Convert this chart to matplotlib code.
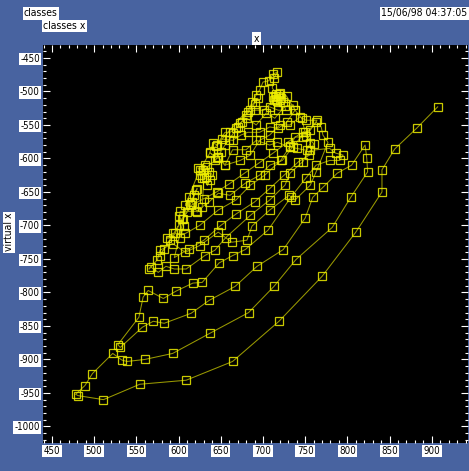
import matplotlib
matplotlib.use("Agg")
import matplotlib.pyplot as plt
from matplotlib import font_manager
from matplotlib.ticker import MultipleLocator

# one long trajectory, written as the successive sweeps it makes
sweep_01 = [(907, -523), (882, -555), (856, -586), (841, -617), (841, -650), (810, -710),
            (770, -776), (719, -843), (664, -903), (609, -931), (554, -937), (511, -960),
            (481, -954), (478, -952)]
sweep_02 = [(489, -939), (498, -921), (522, -891), (533, -901), (539, -903), (560, -900),
            (593, -891), (637, -861), (683, -830), (713, -791), (739, -751), (782, -703),
            (804, -658), (824, -620), (823, -600), (821, -580)]
sweep_03 = [(805, -610), (788, -622), (771, -643), (759, -658), (750, -689), (724, -736),
            (693, -761), (667, -791), (636, -812), (615, -831), (583, -846), (570, -843),
            (557, -852), (531, -882)]
sweep_04 = [(528, -878), (553, -837), (558, -807), (564, -797), (582, -809), (597, -798),
            (617, -786), (628, -785), (648, -756), (664, -745), (679, -736), (706, -707),
            (733, -658), (751, -629), (763, -610), (779, -603), (791, -603), (795, -595)]
sweep_05 = [(786, -592), (779, -585), (756, -588), (747, -605), (732, -622), (726, -640),
            (708, -662), (685, -685), (656, -718), (643, -737), (631, -745), (609, -765),
            (595, -765), (585, -761), (576, -770), (567, -762), (565, -765)]
sweep_06 = [(575, -751), (578, -737), (593, -727), (608, -740), (625, -730), (647, -710),
            (663, -725), (681, -722), (687, -701), (708, -677), (731, -655), (738, -662),
            (756, -640), (763, -620), (777, -576), (771, -565)]
sweep_07 = [(769, -553), (763, -546), (747, -568), (738, -568), (732, -582), (721, -603),
            (702, -625), (685, -640), (668, -662), (647, -677), (625, -700), (608, -712),
            (593, -712), (586, -719)]
sweep_08 = [(602, -718), (606, -701), (601, -686), (602, -679), (621, -679), (636, -665),
            (647, -652), (661, -655), (679, -637), (696, -625), (708, -610), (723, -603),
            (735, -583), (750, -561), (756, -558), (764, -543)]
sweep_09 = [(751, -543), (744, -538), (732, -550), (720, -550), (708, -565), (696, -573),
            (685, -595), (673, -603), (655, -610), (647, -598), (637, -592), (625, -617),
            (608, -670), (612, -658)]
sweep_10 = [(595, -748), (612, -735), (630, -722), (650, -700), (668, -683), (690, -665),
            (708, -645), (725, -625), (742, -605), (755, -595), (760, -578)]
sweep_11 = [(748, -560), (730, -575), (712, -592), (695, -607), (678, -622), (660, -638),
            (645, -650), (630, -660), (615, -670), (605, -690)]
sweep_12 = [(578, -745), (583, -735), (590, -722), (596, -712), (600, -700), (604, -690),
            (610, -680), (614, -668), (618, -655), (622, -645)]
sweep_13 = [(621, -647), (616, -665), (622, -680), (628, -673), (630, -629), (623, -614),
            (629, -617), (633, -628), (625, -625), (631, -610), (636, -620), (628, -629),
            (637, -632), (634, -640), (640, -625), (634, -613), (643, -603), (647, -598)]
sweep_14 = [(655, -610), (664, -587), (680, -587), (692, -573), (708, -580), (717, -576),
            (732, -583), (740, -585), (752, -588), (756, -577), (751, -567), (746, -540)]
sweep_15 = [(738, -528), (728, -546), (718, -555), (708, -553), (696, -561), (682, -561),
            (674, -565), (664, -573), (651, -571), (646, -580), (641, -577), (637, -591)]
sweep_16 = [(645, -600), (650, -590), (655, -580), (660, -572), (665, -562), (670, -553),
            (675, -545), (680, -535), (685, -527), (690, -518), (694, -510)]
sweep_17 = [(644, -582), (655, -561), (661, -561), (668, -555), (673, -547), (681, -540),
            (692, -550), (704, -532), (714, -540), (726, -522), (736, -520), (738, -528)]
sweep_18 = [(728, -507), (720, -502), (713, -513), (701, -528), (691, -528), (682, -531),
            (687, -516), (692, -505)]
sweep_19 = [(696, -498), (700, -486), (707, -484), (712, -474), (717, -471), (713, -480),
            (711, -495), (718, -507), (715, -511), (719, -504), (714, -507), (721, -510),
            (717, -514), (712, -508), (720, -513), (715, -504), (724, -516), (727, -528),
            (718, -528), (708, -523)]

sweeps = [sweep_01, sweep_02, sweep_03, sweep_04, sweep_05, sweep_06, sweep_07, sweep_08,
          sweep_09, sweep_10, sweep_11, sweep_12, sweep_13, sweep_14, sweep_15, sweep_16,
          sweep_17, sweep_18, sweep_19]

x_ticks = [450, 500, 550, 600, 650, 700, 750, 800, 850, 900]
y_ticks = [-1000, -950, -900, -850, -800, -750, -700, -650, -600, -550, -500, -450]

track_x = [p[0] for s in sweeps for p in s]
track_y = [p[1] for s in sweeps for p in s]

installed = {f.name for f in font_manager.fontManager.ttflist}
if "Liberation Sans Narrow" in installed:
    plt.rcParams["font.family"] = ["Liberation Sans Narrow", "DejaVu Sans"]
else:
    plt.rcParams["font.family"] = ["DejaVu Sans"]
    plt.rcParams["font.stretch"] = "condensed"
plt.rcParams["axes.unicode_minus"] = False

blue = "#4863a0"
box = dict(facecolor="white", edgecolor="none", pad=1.0)

fig = plt.figure(figsize=(4.69, 4.71), dpi=100, facecolor=blue)
ax = fig.add_axes([0.091, 0.059, 0.907, 0.845])
ax.set_facecolor("black")

ax.plot(track_x, track_y, color="#b4b400", lw=0.75, alpha=0.85,
        marker="s", ms=5.6, mfc="none", mec="#eeee00", mew=0.9)

ax.set_xlim(439, 943)
ax.set_ylim(-1025, -431)
ax.set_xticks(x_ticks)
ax.set_yticks(y_ticks)
ax.xaxis.set_minor_locator(MultipleLocator(10))
ax.yaxis.set_minor_locator(MultipleLocator(10))
ax.tick_params(which="both", direction="in", color="white", width=0.8,
               top=True, right=True, labelsize=7, labelcolor="black")
ax.tick_params(which="major", length=5, pad=2)
ax.tick_params(which="minor", length=2.5)
for spine in ax.spines.values():
    spine.set_visible(False)
for lab in ax.get_xticklabels() + ax.get_yticklabels():
    lab.set_bbox(box)

fig.text(0.051, 0.972, "classes", fontsize=7.5, ha="left", va="center", bbox=box)
fig.text(0.092, 0.945, "classes x", fontsize=7.5, ha="left", va="center", bbox=box)
fig.text(0.547, 0.918, "x", fontsize=7.5, ha="center", va="center", bbox=box)
fig.text(0.997, 0.972, "15/06/98 04:37:05", fontsize=7.5, ha="right", va="center", bbox=box)
fig.text(0.019, 0.507, "virtual x", fontsize=7.5, rotation=90, ha="center", va="center",
         bbox=box)

fig.savefig("out.png", dpi=100, facecolor=blue)
